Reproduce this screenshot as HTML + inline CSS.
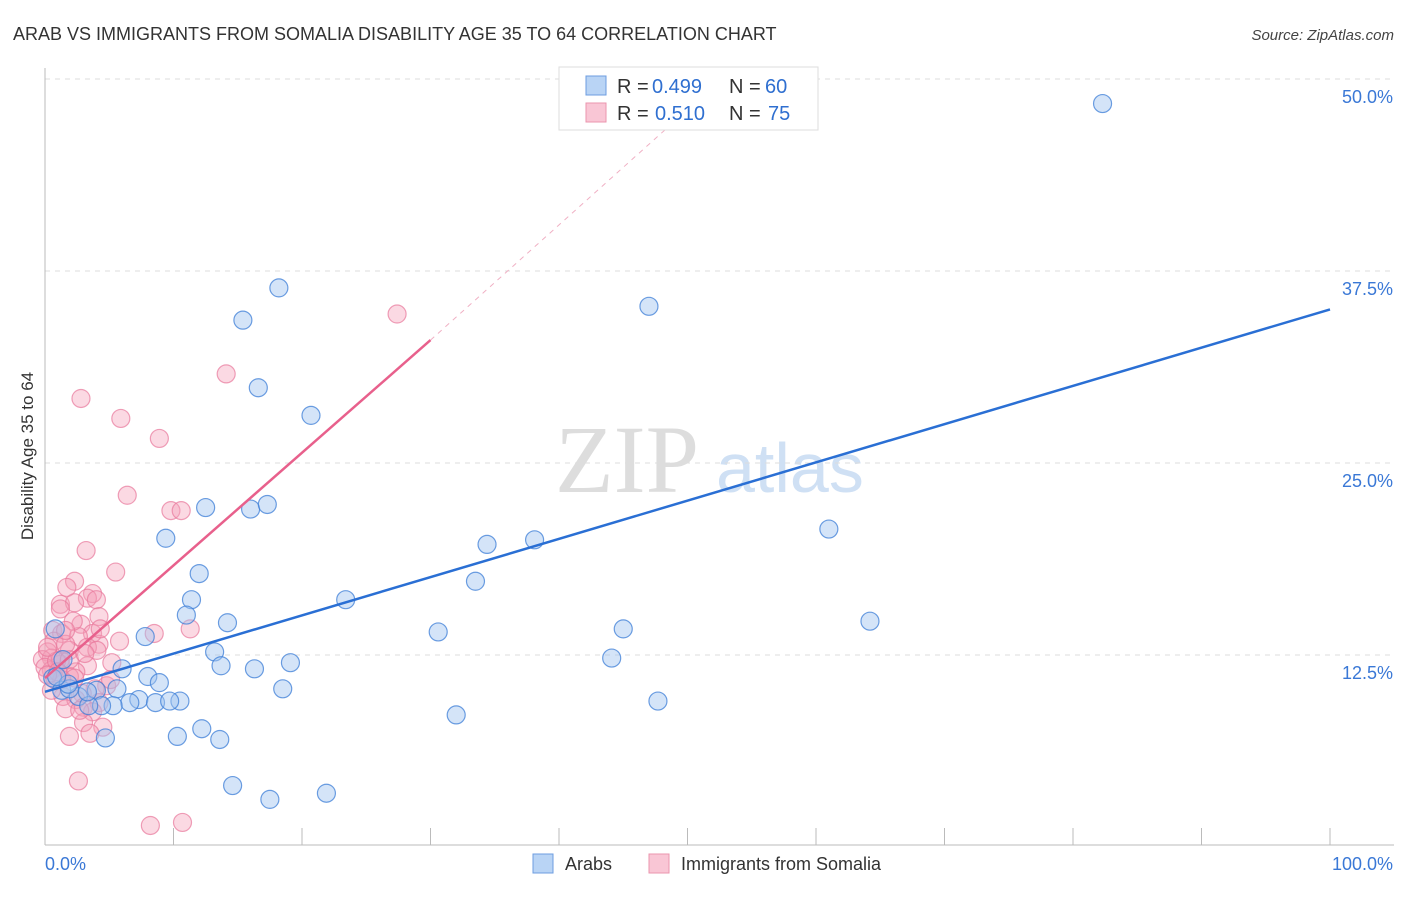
<!DOCTYPE html>
<html><head><meta charset="utf-8"><style>
body{margin:0;background:#fff;font-family:"Liberation Sans",sans-serif}
</style></head><body>
<svg width="1406" height="892" xmlns="http://www.w3.org/2000/svg" id="chart">
<text x="13" y="40" font-size="18" fill="#333">ARAB VS IMMIGRANTS FROM SOMALIA DISABILITY AGE 35 TO 64 CORRELATION CHART</text>
<text x="1394" y="40" font-size="15" fill="#444" text-anchor="end" font-style="italic">Source: ZipAtlas.com</text>
<text transform="translate(33,456) rotate(-90)" font-size="17" fill="#333" text-anchor="middle">Disability Age 35 to 64</text>
<g><text x="555" y="492" font-size="96" fill="#ddd" font-family="Liberation Serif">ZIP</text><text x="716" y="492" font-size="70" fill="#cfe0f4">atlas</text></g>
<g id="grid"></g><g id="pts"></g><g id="lines"></g>
<g>
<rect x="559" y="67" width="259" height="63" fill="#fff" stroke="#ddd"/>
<rect x="586" y="76" width="20" height="19" fill="#b9d4f5" stroke="#6d9de0"/>
<rect x="586" y="103" width="20" height="19" fill="#f9c6d5" stroke="#eb95ae"/>
<text x="617" y="93" font-size="20" fill="#333">R =</text><text x="652" y="93" font-size="20" fill="#2f6fd0">0.499</text>
<text x="729" y="93" font-size="20" fill="#333">N =</text><text x="765" y="93" font-size="20" fill="#2f6fd0">60</text>
<text x="617" y="120" font-size="20" fill="#333">R =</text><text x="655" y="120" font-size="20" fill="#2f6fd0">0.510</text>
<text x="729" y="120" font-size="20" fill="#333">N =</text><text x="768" y="120" font-size="20" fill="#2f6fd0">75</text>
</g>
<g>
<rect x="533" y="854" width="20" height="19" fill="#b9d4f5" stroke="#6d9de0"/>
<text x="565" y="870" font-size="18" fill="#333">Arabs</text>
<rect x="649" y="854" width="20" height="19" fill="#f9c6d5" stroke="#eb95ae"/>
<text x="681" y="870" font-size="18" fill="#333">Immigrants from Somalia</text>
</g>
</svg>
<script>
const yTicks=[12.5,25,37.5,50];
const yTickLabels=["12.5%","25.0%","37.5%","50.0%"];
const xLabels=["0.0%","100.0%"];
const arabX=[82.3,18.2,15.4,47,16.6,20.7,12.5,16,17.3,61,9.4,34.4,38.1,12,33.5,11.4,23.4,11,14.2,64.2,30.6,45,7.8,13.2,44.1,19.1,13.7,16.3,6,8,8.9,0.6,18.5,5.6,4,1.3,2.6,7.3,6.6,8.6,10.5,9.7,5.3,4.4,3.4,47.7,32,12.2,10.3,13.6,4.7,14.6,17.5,21.9,0.8,1.9,3.3,1.8,0.9,1.4];
const arabY=[48.4,36.4,34.3,35.2,29.9,28.1,22.1,22,22.3,20.7,20.1,19.7,20,17.8,17.3,16.1,16.1,15.1,14.6,14.7,14,14.2,13.7,12.7,12.3,12,11.8,11.6,11.6,11.1,10.7,11,10.3,10.3,10.2,10.2,9.8,9.6,9.4,9.4,9.5,9.5,9.2,9.2,9.2,9.5,8.6,7.7,7.2,7,7.1,4,3.1,3.5,14.2,10.3,10.1,10.6,11.1,12.2];
const somX=[27.4,14.1,2.8,5.9,8.9,6.4,9.8,10.6,3.2,5.5,2.3,1.7,3.7,3.3,4,1.2,2.3,4.2,1.2,0.6,2.8,11.3,8.5,1.3,3.7,2.6,0.7,4.2,3.3,4.04,1.9,0.2,0.5,-0.2,5.2,1.2,3.3,2.4,0.5,1.9,1.3,2.3,0.8,4.8,3.9,2.9,1.4,2.4,3.0,4.2,1.6,3.7,3.0,4.5,3.5,1.9,2.6,8.2,10.7,1.2,0,0.9,1.9,0.2,5.1,1.6,2.7,0.5,2.2,4.3,1,3.1,1.6,5.8,0.2];
const somY=[34.7,30.8,29.2,27.9,26.6,22.9,21.9,21.9,19.3,17.9,17.3,16.9,16.5,16.2,16.1,15.8,15.9,15,15.5,14.1,14.5,14.2,13.9,13.9,13.9,13.7,13.4,13.2,13,12.8,12.8,12.7,12.3,12.2,12,11.9,11.8,11.4,11.5,11.1,10.9,11,10.9,10.5,10.3,10,9.8,9.6,9.1,9.4,9,8.8,8.1,7.8,7.4,7.2,4.3,1.4,1.6,12.2,11.7,12.1,12.2,13,10.9,13.2,8.9,10.2,14.7,14.2,11.4,12.6,14.1,13.4,11.2];
const blueLine=[[0,10.1],[100,35]];
const pinkLine=[[0,11],[30,33]];
const pinkDash=[[30,33],[50,48]];
const X=v=>45+v*12.85, Y=v=>847-v*15.36;
const NS="http://www.w3.org/2000/svg";
function mk(t,a,p){const e=document.createElementNS(NS,t);for(const k in a)e.setAttribute(k,a[k]);p.appendChild(e);return e;}
const grid=document.getElementById('grid');
yTicks.forEach((t,i)=>{
 const l=mk('line',{x1:45,x2:1394,y1:Y(t),y2:Y(t),stroke:'#ddd','stroke-dasharray':'5,5'},grid);
 
 
 const tx=mk('text',{x:1393,y:Y(t)+24,'font-size':18,fill:'#3a78d6','text-anchor':'end'},grid);
 tx.textContent=yTickLabels[i];
 
 
});
const ax=mk('line',{x1:45,x2:1394,y1:845,y2:845,stroke:'#bbb'},grid);


const ay=mk('line',{x1:45,x2:45,y1:68,y2:845,stroke:'#bbb'},grid);


for(let i=0;i<=10;i++){const t=mk('line',{x1:X(i*10),x2:X(i*10),y1:828,y2:845,stroke:'#bbb'},grid);
 
 }
[[0,'start',45],[1,'end',1393]].forEach(([i,a,x])=>{const t=mk('text',{x:x,y:870,'font-size':18,fill:'#3a78d6','text-anchor':a},grid);t.textContent=xLabels[i];
 
 });
const pts=document.getElementById('pts');
somX.forEach((v,i)=>{const c=mk('circle',{cx:X(v),cy:Y(somY[i]),r:9,fill:'rgba(244,160,186,0.4)',stroke:'rgba(232,120,155,0.7)','stroke-width':1.2},pts);
 
 });
arabX.forEach((v,i)=>{const c=mk('circle',{cx:X(v),cy:Y(arabY[i]),r:9,fill:'rgba(160,196,240,0.45)',stroke:'rgba(60,125,215,0.75)','stroke-width':1.2},pts);
 
 });
const lines=document.getElementById('lines');
const b=mk('line',{x1:X(blueLine[0][0]),y1:Y(blueLine[0][1]),x2:X(blueLine[1][0]),y2:Y(blueLine[1][1]),stroke:'#2a6fd4','stroke-width':2.5},lines);


const p=mk('line',{x1:X(pinkLine[0][0]),y1:Y(pinkLine[0][1]),x2:X(pinkLine[1][0]),y2:Y(pinkLine[1][1]),stroke:'#e8608c','stroke-width':2.5},lines);


const d=mk('line',{x1:X(pinkDash[0][0]),y1:Y(pinkDash[0][1]),x2:X(pinkDash[1][0]),y2:Y(pinkDash[1][1]),stroke:'#f0b0c4','stroke-width':1,'stroke-dasharray':'5,5'},lines);


</script>
</body></html>
